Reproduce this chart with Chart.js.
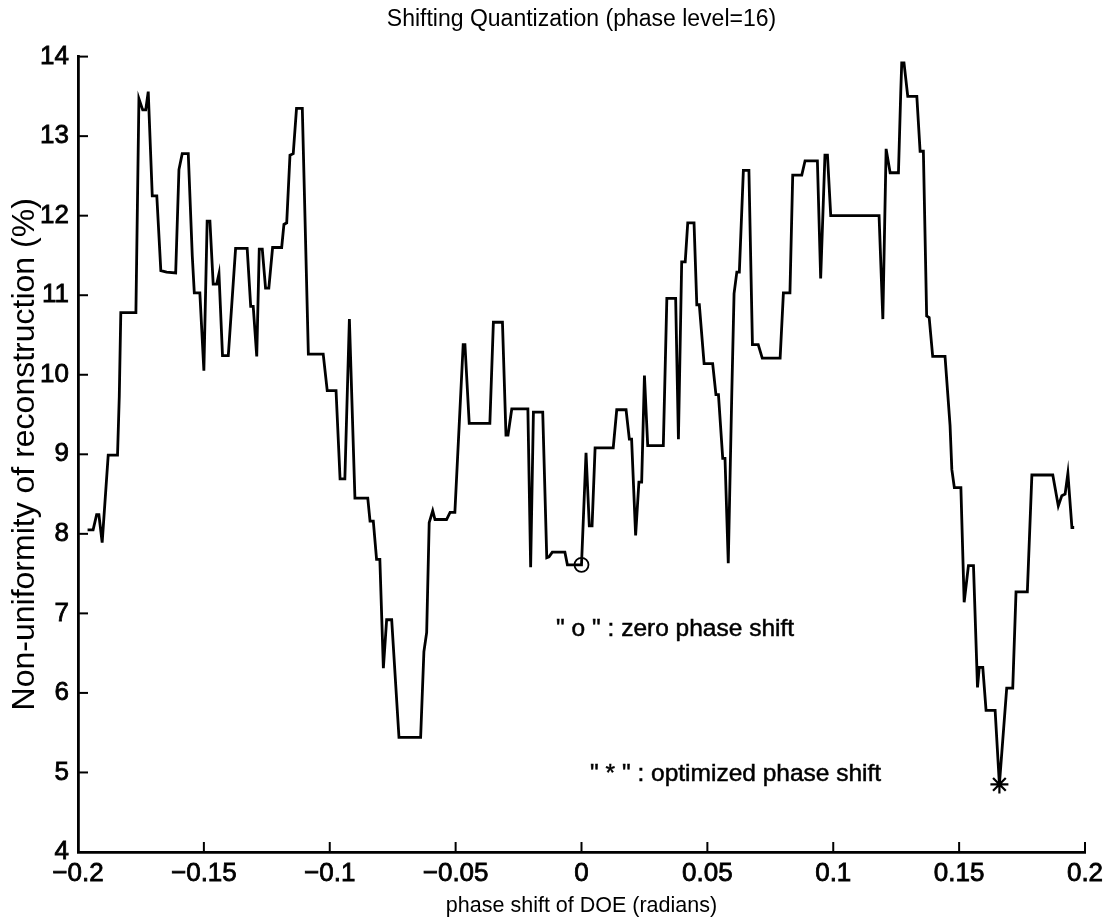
<!DOCTYPE html>
<html>
<head>
<meta charset="utf-8">
<title>Shifting Quantization</title>
<script src="https://cdn.jsdelivr.net/npm/chart.js@4.4.0/dist/chart.umd.min.js"></script>
<style>
    body { margin: 0; background: #fff; }
    #chartBox { width: 1111px; height: 920px; }
</style>
</head>
<body>
<div id="chartBox"><canvas id="quantChart" width="1111" height="920"></canvas></div>
<script>
// phase shift (radians) and non-uniformity (%) of the reconstruction
const phaseShift = [
    -0.1962, -0.1940, -0.1926, -0.1917, -0.1904, -0.1880, -0.1843, -0.1836, -0.1830, -0.1770,
    -0.1758, -0.1743, -0.1731, -0.1721, -0.1705, -0.1687, -0.1671, -0.1648, -0.1612, -0.1599,
    -0.1586, -0.1562, -0.1546, -0.1538, -0.1516, -0.1500, -0.1487, -0.1476, -0.1463, -0.1449,
    -0.1440, -0.1426, -0.1403, -0.1374, -0.1328, -0.1314, -0.1304, -0.1290, -0.1280, -0.1268,
    -0.1255, -0.1242, -0.1227, -0.1191, -0.1182, -0.1171, -0.1158, -0.1145, -0.1132, -0.1109,
    -0.1085, -0.1026, -0.1010, -0.0975, -0.0959, -0.0940, -0.0922, -0.0900, -0.0849, -0.0840,
    -0.0827, -0.0814, -0.0801, -0.0787, -0.0774, -0.0754, -0.0725, -0.0639, -0.0626, -0.0615,
    -0.0605, -0.0591, -0.0582, -0.0536, -0.0522, -0.0503, -0.0470, -0.0463, -0.0446, -0.0364,
    -0.0350, -0.0314, -0.0300, -0.0292, -0.0277, -0.0213, -0.0202, -0.0191, -0.0154, -0.0138,
    -0.0129, -0.0116, -0.0066, -0.0056, 0.0000, 0.0018, 0.0031, 0.0042, 0.0054, 0.0126,
    0.0140, 0.0177, 0.0190, 0.0199, 0.0215, 0.0228, 0.0239, 0.0250, 0.0263, 0.0325,
    0.0339, 0.0374, 0.0385, 0.0398, 0.0412, 0.0422, 0.0447, 0.0458, 0.0468, 0.0487,
    0.0521, 0.0534, 0.0544, 0.0561, 0.0570, 0.0583, 0.0597, 0.0606, 0.0617, 0.0627,
    0.0643, 0.0665, 0.0679, 0.0702, 0.0718, 0.0789, 0.0802, 0.0828, 0.0839, 0.0875,
    0.0888, 0.0937, 0.0950, 0.0967, 0.0977, 0.0990, 0.1182, 0.1197, 0.1210, 0.1226,
    0.1259, 0.1268, 0.1272, 0.1281, 0.1296, 0.1332, 0.1345, 0.1358, 0.1371, 0.1381,
    0.1395, 0.1444, 0.1464, 0.1471, 0.1481, 0.1507, 0.1520, 0.1537, 0.1557, 0.1573,
    0.1580, 0.1594, 0.1607, 0.1643, 0.1660, 0.1689, 0.1713, 0.1726, 0.1771, 0.1789,
    0.1872, 0.1894, 0.1908, 0.1921, 0.1932, 0.1948, 0.1957
];

const nonUniformity = [
    8.05, 8.05, 8.24, 8.24, 7.89, 8.99, 8.99, 9.73, 10.78, 10.78,
    13.47, 13.33, 13.33, 13.56, 12.25, 12.25, 11.31, 11.29, 11.28, 12.58,
    12.78, 12.78, 11.49, 11.03, 11.03, 10.05, 11.93, 11.93, 11.14, 11.14,
    11.27, 10.24, 10.24, 11.59, 11.59, 10.86, 10.86, 10.23, 11.58, 11.58,
    11.09, 11.09, 11.60, 11.60, 11.89, 11.91, 12.76, 12.78, 13.35, 13.35,
    10.26, 10.26, 9.80, 9.80, 8.69, 8.69, 10.70, 8.45, 8.45, 8.16,
    8.16, 7.68, 7.68, 6.31, 6.92, 6.92, 5.44, 5.44, 6.52, 6.76,
    8.14, 8.29, 8.18, 8.18, 8.27, 8.27, 10.38, 10.38, 9.39, 9.39,
    10.66, 10.66, 9.24, 9.24, 9.57, 9.57, 7.58, 9.53, 9.53, 7.70,
    7.71, 7.77, 7.77, 7.61, 7.61, 9.02, 8.10, 8.10, 9.08, 9.08,
    9.56, 9.56, 9.19, 9.19, 7.98, 8.65, 8.65, 9.99, 9.11, 9.11,
    10.96, 10.96, 9.19, 11.42, 11.42, 11.91, 11.91, 10.88, 10.88, 10.14,
    10.14, 9.75, 9.75, 8.95, 8.95, 7.63, 9.77, 11.02, 11.29, 11.29,
    12.57, 12.57, 10.38, 10.38, 10.21, 10.21, 11.03, 11.03, 12.51, 12.51,
    12.69, 12.69, 11.21, 12.76, 12.76, 12.00, 12.00, 10.70, 12.84, 12.54,
    12.54, 13.54, 13.92, 13.92, 13.50, 13.50, 12.81, 12.81, 10.74, 10.72,
    10.23, 10.23, 9.36, 8.81, 8.58, 8.58, 7.14, 7.60, 7.60, 6.07,
    6.32, 6.32, 5.78, 5.78, 4.85, 6.06, 6.06, 7.27, 7.27, 8.74,
    8.74, 8.35, 8.48, 8.50, 8.76, 8.08, 8.08
];

// marked points: zero phase shift and the optimized shift
const zeroShiftX = [0];
const zeroShiftY = [7.61];
const optimumX = [0.166];
const optimumY = [4.85];

const xTicks = [-0.2, -0.15, -0.1, -0.05, 0, 0.05, 0.1, 0.15, 0.2];
const xTickLabels = ['\u22120.2', '\u22120.15', '\u22120.1', '\u22120.05', '0', '0.05', '0.1', '0.15', '0.2'];
const yTicks = [4, 5, 6, 7, 8, 9, 10, 11, 12, 13, 14];
const yTickLabels = ['4', '5', '6', '7', '8', '9', '10', '11', '12', '13', '14'];

const notes = [
    { text: '" o " : zero phase shift', x: -0.0101, y: 6.80 },
    { text: '" * " : optimized phase shift', x: 0.0034, y: 4.98 }
];

const FONT = "'Liberation Sans', Arial, Helvetica, sans-serif";

function toPoints(xs, ys) {
    return xs.map((x, i) => ({ x: x, y: ys[i] }));
}

function tickLabel(values, labels) {
    return function (value) {
        const i = values.findIndex(v => Math.abs(v - value) < 1e-9);
        return i >= 0 ? labels[i] : '';
    };
}

// matlab-style tick marks pointing into the plot
const inwardTicks = {
    id: 'inwardTicks',
    afterDatasetsDraw(chart) {
        const { ctx, chartArea, scales } = chart;
        ctx.save();
        ctx.strokeStyle = '#000';
        ctx.lineWidth = 2;
        scales.x.ticks.forEach(t => {
            const px = scales.x.getPixelForValue(t.value);
            ctx.beginPath();
            ctx.moveTo(px, chartArea.bottom);
            ctx.lineTo(px, chartArea.bottom - 10);
            ctx.stroke();
        });
        scales.y.ticks.forEach(t => {
            const py = scales.y.getPixelForValue(t.value);
            ctx.beginPath();
            ctx.moveTo(chartArea.left, py);
            ctx.lineTo(chartArea.left + 10, py);
            ctx.stroke();
        });
        ctx.restore();
    }
};

const textNotes = {
    id: 'textNotes',
    afterDraw(chart) {
        const { ctx, scales } = chart;
        ctx.save();
        ctx.fillStyle = '#000';
        ctx.strokeStyle = '#000';
        ctx.lineWidth = 0.5;
        ctx.font = '24.5px ' + FONT;
        ctx.textAlign = 'left';
        ctx.textBaseline = 'middle';
        notes.forEach(n => {
            const px = scales.x.getPixelForValue(n.x);
            const py = scales.y.getPixelForValue(n.y);
            ctx.strokeText(n.text, px, py);
            ctx.fillText(n.text, px, py);
        });
        ctx.restore();
    }
};

function drawChart() {
    const ctx = document.getElementById('quantChart').getContext('2d');

    new Chart(ctx, {
        type: 'scatter',
        data: {
            datasets: [{
                label: 'non-uniformity',
                data: toPoints(phaseShift, nonUniformity),
                showLine: true,
                borderColor: '#000',
                borderWidth: 2.8,
                pointRadius: 0,
                tension: 0,
                fill: false
            }, {
                label: 'zero phase shift',
                data: toPoints(zeroShiftX, zeroShiftY),
                pointStyle: 'circle',
                pointRadius: 7,
                borderColor: '#000',
                backgroundColor: 'rgba(0,0,0,0)',
                borderWidth: 1.8
            }, {
                label: 'optimized phase shift',
                data: toPoints(optimumX, optimumY),
                pointStyle: 'star',
                pointRadius: 9,
                borderColor: '#000',
                borderWidth: 2.2
            }]
        },
        options: {
            responsive: false,
            animation: false,
            devicePixelRatio: 1,
            layout: {
                padding: { top: 0, left: 0, right: 26, bottom: 0 }
            },
            plugins: {
                legend: { display: false },
                tooltip: { enabled: false },
                title: {
                    display: true,
                    fullSize: false,
                    text: 'Shifting Quantization (phase level=16)',
                    color: '#000',
                    font: { family: FONT, size: 23, weight: 'normal' },
                    padding: { top: 6, bottom: 23 }
                }
            },
            scales: {
                x: {
                    type: 'linear',
                    min: -0.2,
                    max: 0.2,
                    afterBuildTicks: scale => { scale.ticks = xTicks.map(v => ({ value: v })); },
                    afterFit: scale => { scale.height = 68; },
                    grid: { display: false, drawTicks: false },
                    border: { display: true, color: '#000', width: 2.8 },
                    ticks: {
                        color: '#000',
                        padding: 6,
                        maxRotation: 0,
                        textStrokeColor: '#000',
                        textStrokeWidth: 0.8,
                        font: { family: FONT, size: 26 },
                        callback: tickLabel(xTicks, xTickLabels)
                    },
                    title: {
                        display: true,
                        text: 'phase shift of DOE (radians)',
                        color: '#000',
                        font: { family: FONT, size: 21.5 },
                        padding: { top: 0, bottom: 1 }
                    }
                },
                y: {
                    type: 'linear',
                    min: 4,
                    max: 14,
                    afterBuildTicks: scale => { scale.ticks = yTicks.map(v => ({ value: v })); },
                    afterFit: scale => { scale.width = 78; },
                    grid: { display: false, drawTicks: false },
                    border: { display: true, color: '#000', width: 2.8 },
                    ticks: {
                        color: '#000',
                        padding: 9,
                        textStrokeColor: '#000',
                        textStrokeWidth: 0.8,
                        font: { family: FONT, size: 26 },
                        callback: tickLabel(yTicks, yTickLabels)
                    },
                    title: {
                        display: true,
                        text: 'Non-uniformity of reconstruction (%)',
                        color: '#000',
                        font: { family: FONT, size: 32 },
                        padding: { top: 6, bottom: 0 }
                    }
                }
            }
        },
        plugins: [inwardTicks, textNotes]
    });
}

window.onload = drawChart;
</script>
</body>
</html>
